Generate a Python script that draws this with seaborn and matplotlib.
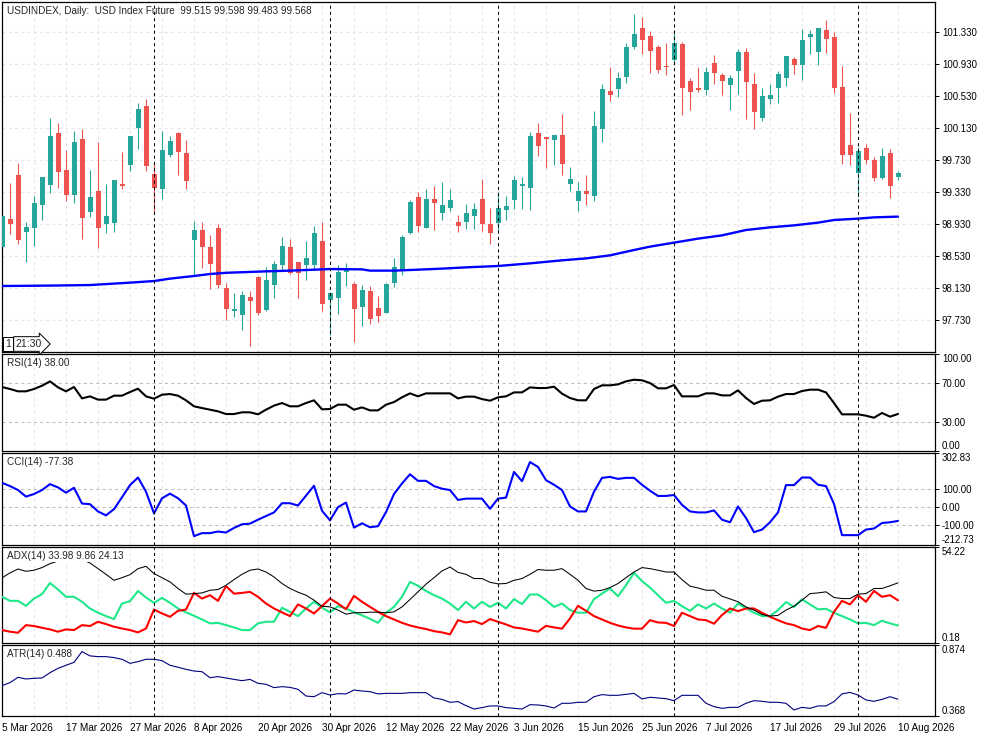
import numpy as np
import pandas as pd
import matplotlib
matplotlib.use('Agg')
import matplotlib.pyplot as plt
import seaborn as sns

# işlem günleri (günlük mumlar)
dates = pd.bdate_range('2026-03-05', '2026-08-10')
bars = np.arange(len(dates))

open_ = [98.647, 98.99, 99.54, 98.834, 98.884, 99.172, 99.422, 100.063, 99.605, 99.297,
         99.993, 99.08, 99.343, 98.934, 98.947, 99.43, 99.672, 100.134, 100.405, 99.555,
         99.372, 99.797, 100.072, 99.817, 98.734, 98.855, 98.642, 98.88, 98.13, 97.847,
         97.797, 98.018, 98.272, 97.859, 98.172, 98.418, 98.642, 98.455, 98.418, 98.418,
         98.718, 97.984, 98.009, 98.334, 98.18, 97.897, 98.093, 97.88, 97.822, 98.197,
         98.355, 98.818, 99.268, 98.884, 99.243, 99.072, 99.134, 98.955, 98.959, 99.034,
         99.243, 98.93, 98.947, 99.109, 99.234, 99.409, 99.384, 100.068, 100.018, 99.984,
         100.043, 99.434, 99.222, 99.343, 99.284, 100.122, 100.593, 100.622, 100.772, 101.147,
         101.38, 101.28, 101.147, 100.905, 100.984, 101.184, 100.718, 100.63, 100.609, 100.943,
         100.793, 100.672, 100.847, 101.08, 100.68, 100.259, 100.497, 100.634, 100.759, 100.993,
         100.922, 101.272, 101.084, 101.355, 101.268, 100.643, 99.918, 99.572, 99.88, 99.73,
         99.51, 99.817, 99.515]
high_ = [99.04, 99.447, 99.69, 98.959, 99.28, 99.52, 100.259, 100.197, 99.855, 100.097,
         100.118, 99.605, 99.951, 99.434, 99.48, 99.83, 100.03, 100.447, 100.493, 99.688,
         100.093, 100.026, 100.08, 99.98, 98.972, 98.959, 98.792, 98.93, 98.193, 98.068,
         98.093, 98.093, 98.284, 98.393, 98.468, 98.768, 98.743, 98.455, 98.718, 98.905,
         98.955, 98.085, 98.418, 98.443, 98.205, 98.168, 98.155, 98.03, 98.19, 98.505,
         98.793, 99.23, 99.33, 99.368, 99.405, 99.455, 99.368, 99.043, 99.18, 99.193,
         99.493, 99.13, 99.33, 99.28, 99.53, 99.518, 100.08, 100.193, 100.02, 100.045,
         100.305, 99.643, 99.455, 99.543, 100.343, 100.68, 100.893, 100.83, 101.197, 101.555,
         101.518, 101.343, 101.172, 101.197, 101.355, 101.209, 100.755, 100.893, 100.893, 101.043,
         100.818, 100.793, 101.118, 101.13, 100.818, 100.63, 100.68, 100.843, 101.03, 101.018,
         101.368, 101.355, 101.38, 101.48, 101.33, 100.905, 100.318, 99.897, 99.93, 99.772,
         99.884, 99.868, 99.598]
low_ = [98.64, 98.805, 98.68, 98.459, 98.659, 98.98, 99.322, 99.384, 99.217, 99.197,
        98.747, 99.022, 98.634, 98.818, 98.834, 99.367, 99.597, 99.872, 99.597, 99.063,
        99.243, 99.772, 99.547, 99.372, 98.284, 98.384, 98.122, 98.134, 97.734, 97.772,
        97.605, 97.409, 97.797, 97.847, 98.009, 98.359, 98.305, 98.009, 98.23, 98.355,
        97.847, 97.547, 97.809, 98.159, 97.459, 97.659, 97.684, 97.709, 97.82, 98.138,
        98.293, 98.805, 98.834, 98.88, 98.855, 98.98, 99.097, 98.834, 98.872, 98.872,
        98.847, 98.684, 98.847, 98.984, 99.122, 99.122, 99.109, 99.784, 99.634, 99.672,
        99.547, 99.347, 99.097, 99.172, 99.222, 99.959, 100.472, 100.522, 100.697, 101.122,
        101.059, 100.822, 100.822, 100.797, 100.922, 100.297, 100.359, 100.584, 100.547, 100.684,
        100.547, 100.359, 100.559, 100.247, 100.122, 100.222, 100.434, 100.447, 100.655, 100.809,
        100.73, 101.059, 100.922, 101.072, 100.572, 99.684, 99.672, 99.272, 99.684, 99.472,
        99.497, 99.259, 99.483]
close_ = [99.03, 98.93, 98.73, 98.888, 99.188, 99.518, 100.03, 99.584, 99.297, 99.955,
          99.009, 99.268, 98.88, 99.03, 99.48, 99.409, 100.03, 100.368, 99.659, 99.384,
          99.855, 99.968, 99.834, 99.472, 98.855, 98.647, 98.434, 98.167, 97.868, 97.868,
          98.043, 97.972, 97.818, 98.23, 98.43, 98.655, 98.322, 98.322, 98.505, 98.818,
          97.934, 98.068, 98.33, 98.372, 97.872, 98.105, 97.747, 97.784, 98.18, 98.393,
          98.768, 99.205, 98.909, 99.243, 99.197, 99.168, 99.23, 98.909, 99.068, 99.118,
          98.934, 98.822, 99.13, 99.155, 99.48, 99.43, 100.03, 99.909, 99.997, 100.043,
          99.684, 99.493, 99.343, 99.309, 100.155, 100.618, 100.547, 100.755, 101.143, 101.305,
          101.234, 101.097, 100.859, 100.893, 101.193, 100.634, 100.584, 100.609, 100.83, 100.822,
          100.722, 100.755, 101.08, 100.709, 100.334, 100.53, 100.543, 100.805, 101.03, 100.922,
          101.23, 101.305, 101.38, 101.247, 100.634, 99.797, 99.797, 99.843, 99.734, 99.51,
          99.78, 99.409, 99.568]

# hareketli ortalama (okunabilen noktalar)
ma_bars = [0, 6, 11, 16, 19, 21, 24, 26, 28, 33, 36, 40, 41, 45, 46, 49, 51, 55, 58,
           62, 66, 70, 73, 76, 79, 81, 84, 87, 90, 93, 96, 99, 102, 104, 107, 109, 112]
ma_vals = [98.155, 98.16, 98.167, 98.197, 98.217, 98.247, 98.28, 98.305, 98.32, 98.338,
           98.347, 98.363, 98.367, 98.363, 98.347, 98.347, 98.355, 98.372, 98.388,
           98.405, 98.438, 98.476, 98.5, 98.538, 98.605, 98.647, 98.697, 98.747, 98.788,
           98.855, 98.888, 98.913, 98.947, 98.98, 98.997, 99.013, 99.022]

rsi = [65.9, 63.8, 61.4, 61.4, 63.8, 67.2, 71.7, 65.5, 61.4, 65.9,
       54.1, 56.2, 52.8, 52.8, 56.9, 56.9, 60.7, 64.1, 56.2, 53.8,
       57.9, 58.6, 56.9, 52.1, 45.9, 44.1, 42.4, 40.7, 37.9, 37.9,
       39.7, 39.7, 37.6, 42.4, 46.6, 49.3, 45.9, 45.9, 49.3, 52.1,
       42.8, 43.1, 47.6, 47.6, 42.4, 44.8, 41.7, 41.7, 47.6, 50.3,
       55.2, 59.3, 56.2, 59.3, 59.3, 59.3, 59.3, 54.1, 55.9, 55.9,
       53.4, 51.7, 55.2, 56.2, 60.3, 60.3, 65.5, 64.8, 64.8, 66.2,
       59.0, 54.5, 52.1, 52.1, 63.8, 67.6, 67.6, 68.6, 71.7, 73.4,
       72.8, 70.0, 64.5, 64.5, 67.9, 56.2, 56.2, 56.2, 59.3, 59.3,
       57.2, 57.2, 62.4, 54.5, 48.3, 51.7, 52.1, 55.9, 58.6, 58.6,
       61.7, 63.1, 63.1, 60.3, 49.3, 37.6, 37.6, 37.6, 36.2, 34.1,
       39.0, 35.2, 38.0]

cci = [137, 118.5, 96.3, 59.3, 74, 96.3, 129.6, 111, 81.5, 109,
       20.4, 16.7, -24, -46.3, -11, 55.6, 124, 166.7, 87, -35,
       50, 76, 50, 9.3, -163, -146, -146, -137, -142.6, -116.7,
       -96.3, -92.6, -70.4, -50, -29.6, 22.2, 22.2, 9.3, 64.8, 120.4,
       -20, -74, 0, 26, -115, -90.7, -113, -107, -27.8, 74,
       133, 185, 148, 148, 118.5, 103.7, 96.3, 40.7, 48, 48,
       48, -9.3, 48, 53.7, 198, 146, 253.7, 226, 152, 126,
       96.3, 3.7, -24, -24, 87, 164.8, 170, 159, 164.8, 164.8,
       126, 92.6, 63, 63, 68.5, 13, -24, -29.6, -29.6, -18.5,
       -70.4, -85, 3.7, -61, -140.7, -126, -85, -29.6, 124, 124,
       166.7, 166.7, 126, 118.5, 18.5, -157.4, -157.4, -157.4, -126, -120,
       -89, -85, -77.38]

adx = [36.8, 39.6, 41.8, 40.5, 41.1, 42.6, 44.8, 46.3, 47.5, 47.6,
       47.1, 45.2, 42.0, 38.8, 35.4, 36.9, 38.6, 42.0, 43.3, 39.2,
       36.9, 34.5, 30.8, 27.6, 27.9, 28.3, 29.8, 30.2, 32.6, 35.8,
       38.8, 41.1, 41.8, 40.1, 37.3, 33.6, 30.8, 28.7, 27.0, 24.2,
       20.8, 20.4, 18.6, 16.3, 17.1, 17.1, 17.4, 17.4, 17.1, 17.6,
       20.4, 24.6, 28.9, 33.2, 36.9, 40.7, 42.9, 39.9, 38.8, 36.4,
       36.4, 34.3, 33.4, 33.6, 35.4, 36.4, 38.8, 41.5, 41.1, 41.1,
       42.0, 38.8, 35.4, 30.8, 29.3, 29.8, 31.3, 33.6, 36.9, 40.1,
       42.6, 42.0, 41.1, 40.1, 40.1, 35.8, 32.1, 31.1, 29.8, 29.8,
       26.4, 24.9, 23.3, 20.4, 18.6, 16.1, 15.2, 15.6, 18.6, 20.8,
       24.2, 27.9, 28.3, 28.9, 25.7, 25.1, 25.1, 27.6, 27.9, 30.8,
       30.8, 32.3, 33.98]
plus_di = [26.1, 23.8, 23.8, 21.0, 25.1, 27.6, 33.9, 30.2, 26.1, 26.1,
           23.3, 19.5, 17.1, 15.2, 13.5, 22.3, 23.6, 29.4, 25.7, 22.7,
           25.5, 22.7, 19.5, 17.3, 15.4, 13.3, 11.1, 11.4, 10.1, 8.8,
           7.3, 7.3, 11.1, 12.0, 12.0, 19.9, 17.6, 15.2, 19.5, 23.3,
           20.0, 17.3, 20.8, 19.5, 17.4, 15.6, 13.7, 11.4, 17.1, 20.4,
           26.1, 34.5, 32.3, 29.4, 27.0, 25.1, 22.3, 18.6, 23.3, 19.5,
           23.3, 20.4, 22.7, 19.5, 24.8, 22.0, 27.4, 27.4, 24.2, 20.4,
           22.3, 18.6, 17.1, 17.1, 24.8, 27.9, 30.8, 26.4, 32.6, 39.6,
           35.0, 31.3, 27.0, 22.7, 23.8, 20.8, 18.2, 21.8, 19.5, 22.3,
           19.5, 17.1, 22.3, 19.5, 17.1, 15.2, 15.2, 18.6, 23.1, 20.4,
           24.6, 21.8, 19.0, 19.3, 17.1, 15.2, 13.3, 11.1, 11.4, 10.1,
           12.6, 11.1, 9.86]
minus_di = [7.3, 6.4, 5.8, 10.1, 9.6, 8.6, 7.7, 6.4, 7.7, 7.3,
            10.1, 9.6, 12.0, 10.7, 9.2, 8.2, 7.3, 6.0, 8.2, 18.9,
            16.7, 14.8, 18.2, 18.9, 28.3, 25.1, 27.0, 23.8, 32.1, 27.9,
            28.3, 28.9, 26.1, 22.3, 19.5, 17.3, 15.2, 21.8, 19.5, 16.7,
            20.8, 25.1, 22.3, 19.1, 26.6, 23.3, 20.4, 17.6, 15.2, 13.3,
            11.4, 9.9, 8.8, 7.9, 6.7, 6.0, 4.9, 12.9, 11.6, 12.4,
            10.7, 13.5, 12.0, 10.5, 8.8, 8.2, 7.3, 6.4, 9.7, 8.8,
            8.1, 13.9, 21.0, 18.2, 15.2, 13.3, 11.4, 9.9, 8.8, 8.1,
            8.1, 12.9, 11.6, 11.4, 9.6, 17.1, 15.2, 13.3, 12.9, 10.9,
            15.8, 19.5, 18.0, 19.5, 19.5, 17.1, 14.8, 12.9, 11.1, 10.1,
            8.2, 7.3, 9.6, 8.6, 17.6, 23.8, 21.8, 27.0, 23.3, 29.4,
            26.1, 27.0, 24.13]

atr = [0.585, 0.607, 0.645, 0.633, 0.638, 0.640, 0.678, 0.709, 0.731, 0.752,
       0.829, 0.798, 0.793, 0.793, 0.786, 0.774, 0.745, 0.757, 0.774, 0.774,
       0.764, 0.731, 0.717, 0.702, 0.690, 0.685, 0.642, 0.650, 0.640, 0.630,
       0.621, 0.630, 0.602, 0.595, 0.571, 0.578, 0.573, 0.559, 0.511, 0.506,
       0.535, 0.518, 0.528, 0.526, 0.554, 0.547, 0.542, 0.526, 0.530, 0.530,
       0.530, 0.535, 0.535, 0.535, 0.497, 0.487, 0.466, 0.471, 0.442, 0.418,
       0.428, 0.440, 0.440, 0.428, 0.423, 0.418, 0.449, 0.447, 0.440, 0.425,
       0.459, 0.459, 0.466, 0.466, 0.506, 0.521, 0.516, 0.516, 0.523, 0.530,
       0.490, 0.502, 0.497, 0.492, 0.478, 0.516, 0.516, 0.516, 0.459, 0.435,
       0.423, 0.430, 0.430, 0.459, 0.478, 0.473, 0.466, 0.466, 0.459, 0.411,
       0.430, 0.423, 0.440, 0.440, 0.471, 0.526, 0.537, 0.518, 0.483, 0.473,
       0.487, 0.506, 0.488]

price_ticks = [97.73, 98.13, 98.53, 98.93, 99.33, 99.73, 100.13, 100.53, 100.93, 101.33]

sns.set_style('white')
plt.rcParams['font.family'] = ['Liberation Sans', 'DejaVu Sans']
FS = 6.9
W, H = 983, 737
fig = plt.figure(figsize=(W / 100, H / 100), dpi=100)


def panel(top, bottom):
    return fig.add_axes([2 / W, 1 - bottom / H, 933 / W, (bottom - top) / H])


ax_main = panel(2, 352)
ax_rsi = panel(354, 450.7)
ax_cci = panel(453.3, 545)
ax_adx = panel(547, 642.7)
ax_atr = panel(645.3, 716)
axes = [ax_main, ax_rsi, ax_cci, ax_adx, ax_atr]

month_start = np.where(dates.month[1:] != dates.month[:-1])[0] + 1
grid_kw = dict(color='#e6e6e6', ls=(0, (3, 3)), lw=0.75, zorder=0)
level_kw = dict(color='#bdbdbd', ls=(0, (3, 3)), lw=0.75, zorder=1)

for ax in axes:
    ax.set_xlim(0, 933 / 8)
    for s in ax.spines.values():
        s.set_color('black')
        s.set_linewidth(0.9)
    for b in bars[::4]:
        ax.axvline(b, **grid_kw)
    for b in month_start:
        ax.axvline(b, color='black', ls=(0, (3, 3)), lw=0.75, zorder=5)
    ax.yaxis.tick_right()
    ax.tick_params(axis='y', direction='out', length=3, width=0.7, pad=2,
                   labelsize=FS, colors='black')
    ax.set_xticks(bars[::8])
    ax.tick_params(axis='x', length=0, labelbottom=False)


def edge_labels(ax):
    labs = ax.get_yticklabels()
    labs[0].set_va('bottom')
    labs[-1].set_va('top')


def tag(ax, text, white=False):
    kw = {}
    if white:
        kw['bbox'] = dict(fc='white', ec='none', pad=0.5)
    ax.annotate(text, xy=(0, 1), xycoords='axes fraction', xytext=(5, -4),
                textcoords='offset pixels', ha='left', va='top', fontsize=FS + 0.3,
                zorder=10, **kw)


# ana grafik: mumlar
o = np.array(open_)
c = np.array(close_)
h = np.array(high_)
l = np.array(low_)
renk = np.where(c >= o, '#26a69a', '#ef5350')
ax_main.vlines(bars, l, h, colors=renk, lw=0.8, zorder=2)
ax_main.bar(bars, np.maximum(np.abs(c - o), 0.012), bottom=np.minimum(o, c),
            width=0.625, color=renk, linewidth=0, zorder=3)
sns.lineplot(x=ma_bars, y=ma_vals, ax=ax_main, color='#0000ff', lw=1.7, zorder=4)
ax_main.set_ylim(97.33, 101.705)
ax_main.set_yticks(price_ticks)
ax_main.set_yticklabels([f'{v:.3f}' for v in price_ticks])
ax_main.grid(axis='y', **grid_kw)
tag(ax_main, f'USDINDEX, Daily:  USD Index Future  {o[-1]:.3f} {h[-1]:.3f} {l[-1]:.3f} {c[-1]:.3f}')

# sol alttaki küçük zaman kutusu
ax_main.annotate('1', xy=(0, 0), xycoords='axes fraction', xytext=(3, 3),
                 textcoords='offset pixels', fontsize=7.6, ha='left', va='bottom',
                 bbox=dict(boxstyle='square,pad=0.22', fc='white', ec='black', lw=0.7), zorder=10)
ax_main.annotate('21:30', xy=(0, 0), xycoords='axes fraction', xytext=(14, 3),
                 textcoords='offset pixels', fontsize=7.6, ha='left', va='bottom',
                 bbox=dict(boxstyle='rarrow,pad=0.22', fc='white', ec='black', lw=0.7), zorder=10)

# RSI
sns.lineplot(x=bars, y=rsi, ax=ax_rsi, color='black', lw=1.5, zorder=4)
ax_rsi.set_ylim(0, 100)
for lv in (70, 30):
    ax_rsi.axhline(lv, **level_kw)
ax_rsi.set_yticks([0, 30, 70, 100])
ax_rsi.set_yticklabels(['0.00', '30.00', '70.00', '100.00'])
edge_labels(ax_rsi)
tag(ax_rsi, f'RSI(14) {rsi[-1]:.2f}')

# CCI
sns.lineplot(x=bars, y=cci, ax=ax_cci, color='#0000ff', lw=1.5, zorder=4)
ax_cci.set_ylim(-212.73, 302.83)
for lv in (100, 0, -100):
    ax_cci.axhline(lv, **level_kw)
cci_ticks = [-212.73, -100, 0, 100, 302.83]
ax_cci.set_yticks(cci_ticks)
ax_cci.set_yticklabels([f'{v:.2f}' for v in cci_ticks])
edge_labels(ax_cci)
tag(ax_cci, f'CCI(14) {cci[-1]:.2f}')

# ADX
sns.lineplot(x=bars, y=adx, ax=ax_adx, color='black', lw=0.75, zorder=4)
sns.lineplot(x=bars, y=plus_di, ax=ax_adx, color='#1ee88a', lw=1.5, zorder=3)
sns.lineplot(x=bars, y=minus_di, ax=ax_adx, color='#ff0000', lw=1.5, zorder=3)
ax_adx.set_ylim(0.18, 54.22)
ax_adx.set_yticks([0.18, 54.22])
ax_adx.set_yticklabels(['0.18', '54.22'])
edge_labels(ax_adx)
tag(ax_adx, f'ADX(14) {adx[-1]:.2f} {plus_di[-1]:.2f} {minus_di[-1]:.2f}', white=True)

# ATR
sns.lineplot(x=bars, y=atr, ax=ax_atr, color='#000080', lw=0.8, zorder=4)
ax_atr.set_ylim(0.368, 0.874)
ax_atr.set_yticks([0.368, 0.874])
ax_atr.set_yticklabels(['0.368', '0.874'])
edge_labels(ax_atr)
tag(ax_atr, f'ATR(14) {atr[-1]:.3f}')

ax_atr.set_xticks(bars[::8])
ax_atr.set_xticklabels([f'{d.day} {d.strftime("%b %Y")}' for d in dates[::8]], ha='left')
ax_atr.tick_params(axis='x', length=4, width=0.7, direction='out', pad=1,
                   labelbottom=True, labelsize=FS + 0.3, colors='black')

for ax in axes:
    ax.set_xlabel('')
    ax.set_ylabel('')

fig.savefig('out.png', dpi=100)
